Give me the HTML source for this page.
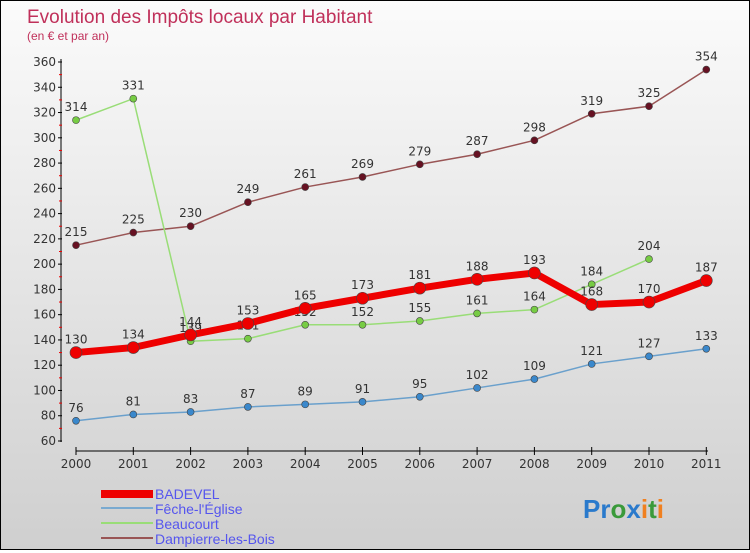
<!DOCTYPE html>
<html><head><meta charset="utf-8"><style>
body{margin:0}
#c{width:748px;height:548px;border:1px solid #000;background:linear-gradient(#fbfbfb,#cfcfcf);position:relative;font-family:"DejaVu Sans","Liberation Sans",sans-serif}
</style></head><body>
<div id="c">
<svg id="s" width="748" height="548" xmlns="http://www.w3.org/2000/svg">
<text x="26" y="22" font-size="19" fill="#c0305a" font-family="Liberation Sans, sans-serif">Evolution des Impôts locaux par Habitant</text>
<text x="26" y="39" font-size="12" fill="#c0305a" font-family="Liberation Sans, sans-serif">(en € et par an)</text>
<g id="axes"></g><g id="series"></g>
<g font-size="14" fill="#5555ee" font-family="Liberation Sans, sans-serif">
<rect x="100" y="489" width="52" height="8" fill="#e00"/>
<text x="154" y="498">BADEVEL</text>
<line x1="100" y1="507" x2="152" y2="507" stroke="#7aaad0" stroke-width="2"/>
<text x="154" y="513">Fêche-l'Église</text>
<line x1="100" y1="522" x2="152" y2="522" stroke="#99dd77" stroke-width="2"/>
<text x="154" y="528">Beaucourt</text>
<line x1="100" y1="537" x2="152" y2="537" stroke="#995555" stroke-width="2"/>
<text x="154" y="543">Dampierre-les-Bois</text>
</g>
<text x="582" y="517" font-size="26" font-weight="bold" font-family="Liberation Sans, sans-serif"><tspan fill="#2a7acc">Pr</tspan><tspan fill="#3a9a3a">o</tspan><tspan fill="#2a7acc">x</tspan><tspan fill="#f08020">i</tspan><tspan fill="#3a9a3a">t</tspan><tspan fill="#f08020">i</tspan></text>
</svg></div>
<script>
const years=[2000,2001,2002,2003,2004,2005,2006,2007,2008,2009,2010,2011];
const yTicks=[60,80,100,120,140,160,180,200,220,240,260,280,300,320,340,360];
const badevel=[130,134,144,153,165,173,181,188,193,168,170,187];
const feche=[76,81,83,87,89,91,95,102,109,121,127,133];
const beaucourt=[314,331,139,141,152,152,155,161,164,184,204,null];
const dampierre=[215,225,230,249,261,269,279,287,298,319,325,354];
const NS="http://www.w3.org/2000/svg";
const X=i=>75+i*57.3, Y=v=>440-(v-60)*379/300;
function el(t,a,p){const e=document.createElementNS(NS,t);for(const k in a)e.setAttribute(k,a[k]);p.appendChild(e);return e;}
const ax=document.getElementById('axes');
el('line',{x1:60,y1:58,x2:60,y2:441,stroke:'#000'},ax);
el('line',{x1:75,y1:450,x2:707,y2:450,stroke:'#000'},ax);
yTicks.forEach(v=>{el('line',{x1:57,y1:Y(v),x2:61,y2:Y(v),stroke:'#000'},ax);
 if(v<360)el('line',{x1:58,y1:Y(v+10),x2:61,y2:Y(v+10),stroke:'#e00'},ax);
 const t=el('text',{x:55,y:Y(v)+4,'font-size':12,fill:'#333','text-anchor':'end'},ax);t.textContent=v;
 
 });
years.forEach((y,i)=>{el('line',{x1:X(i),y1:446,x2:X(i),y2:454,stroke:'#000'},ax);
 const t=el('text',{x:X(i),y:467,'font-size':12,fill:'#333','text-anchor':'middle'},ax);t.textContent=y;
 
 });
const sg=document.getElementById('series');
function draw(d,name,col,w,r,dot){const g=el('g',{},sg);
 
 
 const pts=d.map((v,i)=>v==null?null:X(i)+','+Y(v)).filter(p=>p);
 el('polyline',{points:pts.join(' '),fill:'none',stroke:col,'stroke-width':w,'stroke-linejoin':'round'},g);
 d.forEach((v,i)=>{if(v==null)return;const c=el('circle',{cx:X(i),cy:Y(v),r:r,fill:dot,stroke:'#444','stroke-width':0.6},g);
  
  
  const t=el('text',{x:X(i),y:Y(v)-9,'font-size':12,fill:'#333','text-anchor':'middle'},g);t.textContent=v;
  
  });}
draw(dampierre,'dampierre','#995555',1.5,3.5,'#661122');
draw(beaucourt,'beaucourt','#99dd77',1.5,3.5,'#77cc44');
draw(feche,'feche','#6aa0cc',1.5,3.5,'#3a88cc');
draw(badevel,'badevel','#ee0000',7,6,'#ee0000');
</script></body></html>
